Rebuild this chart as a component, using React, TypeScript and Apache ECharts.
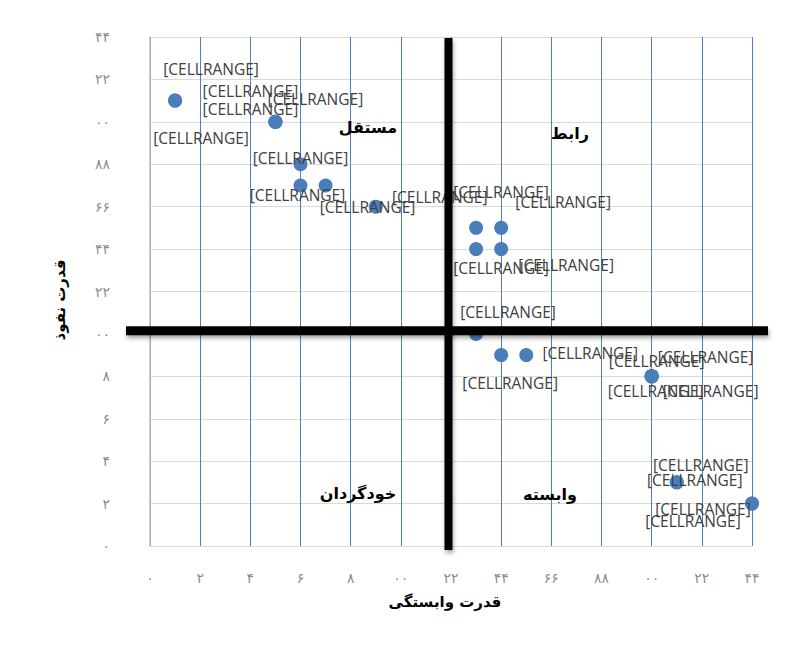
import React, { useEffect, useRef } from "react";
import * as echarts from "echarts";

// Tick labels exactly as printed on both axes (0..24 step 2)
const TICK_LABELS = ["۰", "۲", "۴", "۶", "۸", "۰۰", "۲۲", "۴۴", "۶۶", "۸۸", "۰۰", "۲۲", "۴۴"];

// Data points (duplicates carry their own data label)
const X_VALUES = [1, 1, 5, 5, 5, 6, 6, 7, 9, 13, 14, 13, 14, 13, 14, 15, 20, 20, 20, 20, 21, 21, 24, 24];
const Y_VALUES = [21, 21, 20, 20, 20, 18, 17, 17, 16, 15, 15, 14, 14, 10, 9, 9, 8, 8, 8, 8, 3, 3, 2, 2];
const POINT_LABEL = "[CELLRANGE]";

// Quadrant names
const QUADRANT_NAMES = ["مستقل", "رابط", "خودگردان", "وابسته"];
const X_AXIS_NAME = "قدرت وابستگی";
const Y_AXIS_NAME = "قدرت نفوذ";

// Quadrant divider values
const DIVIDER_X = 11.9;
const DIVIDER_Y = 10.15;

// label offsets (style only)
const LABEL_OFFSETS: number[][] = [
  [36, -32], [26, 37],
  [-25, -31], [-25, -13], [40, -23],
  [0, -6],
  [-3, 10],
  [42, 22],
  [64, -10],
  [25, -36],
  [62, -26],
  [25, 19],
  [65, 16],
  [32, -22],
  [9, 28],
  [64, -2],
  [5, -15], [54, -19], [4, 15], [59, 15],
  [24, -17], [18, -2],
  [-49, 5], [-59, 17],
];

const QUADRANT_POS: number[][] = [
  [368, 127],
  [570, 133],
  [358, 493],
  [550, 494],
];

const ARABIC_FONT = "'DejaVu Sans', 'Noto Sans', sans-serif";

const GRID = { left: 150, top: 37, right: 36, bottom: 120 };
const W = 788;
const H = 666;

export default function App() {
  const ref = useRef<HTMLDivElement>(null);

  useEffect(() => {
    if (!ref.current) return;
    const chart = echarts.init(ref.current, null, { renderer: "svg" });

    const data = X_VALUES.map((x, i) => [x, Y_VALUES[i]]);

    const tickFormatter = (v: number) => {
      const idx = Math.round(v / 2);
      return TICK_LABELS[idx] ?? "";
    };

    chart.setOption({
      animation: false,
      backgroundColor: "#ffffff",
      grid: GRID,
      xAxis: {
        type: "value",
        min: 0,
        max: 24,
        interval: 2,
        axisLine: { show: true, lineStyle: { color: "#d9d9d9", width: 1 } },
        axisTick: { show: false },
        axisLabel: {
          formatter: tickFormatter,
          color: "#8c8c8c",
          fontSize: 14,
          margin: 25,
          fontFamily: ARABIC_FONT,
        },
        splitLine: { show: true, lineStyle: { color: "#4f81bd", width: 1 } },
      },
      yAxis: {
        type: "value",
        min: 0,
        max: 24,
        interval: 2,
        axisLine: { show: true, lineStyle: { color: "#bfbfbf", width: 1.5 } },
        axisTick: { show: false },
        axisLabel: {
          formatter: tickFormatter,
          color: "#8c8c8c",
          fontSize: 14,
          margin: 40,
          fontFamily: ARABIC_FONT,
        },
        splitLine: { show: true, lineStyle: { color: "#d9d9d9", width: 1 } },
      },
      series: [
        {
          type: "scatter",
          symbol: "circle",
          symbolSize: 14,
          itemStyle: { color: "#4a7ebb", opacity: 1 },
          label: {
            show: true,
            position: "inside",
            formatter: POINT_LABEL,
            color: "#404040",
            fontSize: 15.5,
            fontFamily: "'Open Sans', sans-serif",
          },
          labelLayout: (params: any) => {
            const o = LABEL_OFFSETS[params.dataIndex] || [0, 0];
            return { dx: o[0], dy: o[1], hideOverlap: false };
          },
          data,
          z: 3,
        },
      ],
    });

    let p0 = chart.convertToPixel({ seriesIndex: 0 }, [DIVIDER_X, DIVIDER_Y]) as number[];
    const gTop = GRID.top;
    const gBottom = H - GRID.bottom;
    const gLeft = GRID.left;
    const gRight = W - GRID.right;
    if (!p0 || !isFinite(p0[0]) || !isFinite(p0[1])) {
      p0 = [
        gLeft + (DIVIDER_X / 24) * (gRight - gLeft),
        gBottom - (DIVIDER_Y / 24) * (gBottom - gTop),
      ];
    }
    const shadow = { shadowBlur: 4, shadowColor: "rgba(0,0,0,0.35)", shadowOffsetX: 1, shadowOffsetY: 3 };

    chart.setOption({
      graphic: [
        {
          type: "rect",
          z: 10,
          shape: { x: p0[0] - 4, y: gTop + 1, width: 8, height: gBottom + 4 - gTop - 1 },
          style: { fill: "#000000", ...shadow },
        },
        {
          type: "rect",
          z: 10,
          shape: { x: gLeft - 24, y: p0[1] - 4.5, width: gRight + 16 - (gLeft - 24), height: 9 },
          style: { fill: "#000000", ...shadow },
        },
        ...QUADRANT_NAMES.map((t, i) => ({
          type: "text",
          z: 11,
          x: QUADRANT_POS[i][0],
          y: QUADRANT_POS[i][1],
          style: {
            text: t,
            fill: "#000000",
            font: `bold 16px ${ARABIC_FONT}`,
            textAlign: "center",
            textVerticalAlign: "middle",
          },
        })),
        {
          type: "text",
          z: 11,
          x: 445,
          y: 602,
          style: {
            text: X_AXIS_NAME,
            fill: "#000000",
            font: `bold 15px ${ARABIC_FONT}`,
            textAlign: "center",
            textVerticalAlign: "middle",
          },
        },
        {
          type: "text",
          z: 11,
          x: 60,
          y: 300,
          rotation: Math.PI / 2,
          style: {
            text: Y_AXIS_NAME,
            fill: "#000000",
            font: `bold 15px ${ARABIC_FONT}`,
            textAlign: "center",
            textVerticalAlign: "middle",
          },
        },
      ],
    });

    return () => chart.dispose();
  }, []);

  return (
    <div
      ref={ref}
      style={{ position: "absolute", left: 0, top: 0, width: W, height: H, background: "#fff" }}
    />
  );
}
